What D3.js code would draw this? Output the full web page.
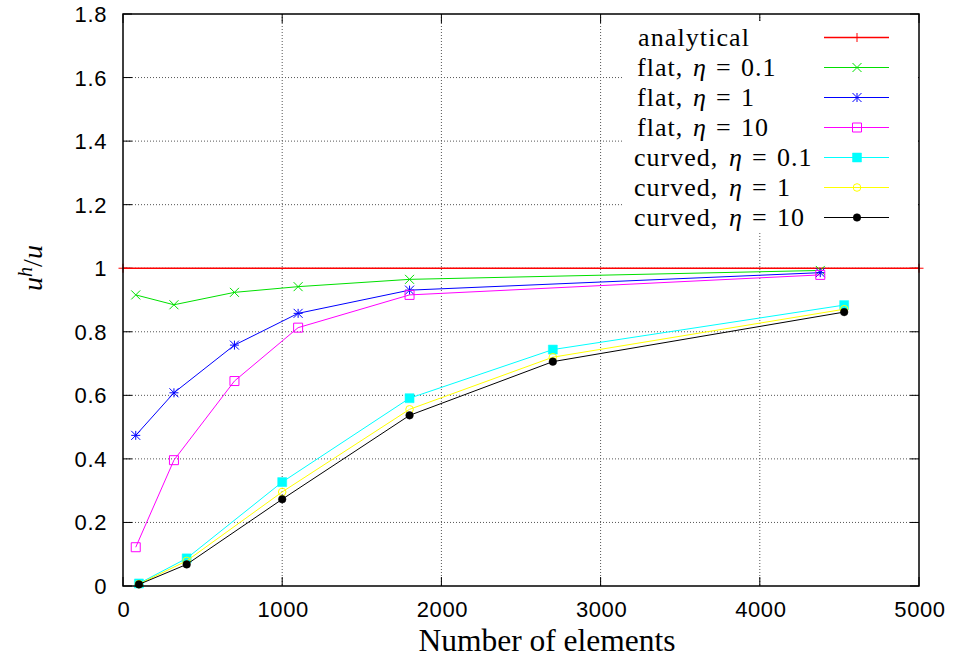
<!DOCTYPE html>
<html>
<head>
<meta charset="utf-8">
<script src="https://cdn.jsdelivr.net/npm/d3@7"></script>
<style>
  html, body { margin: 0; padding: 0; background: #fff; }
  svg { display: block; }
</style>
</head>
<body>
<svg id="chart" width="954" height="663"></svg>
<script>
// ---- data ----
const xTicks = [0, 1000, 2000, 3000, 4000, 5000];
const yTicks = [0, 0.2, 0.4, 0.6, 0.8, 1, 1.2, 1.4, 1.6, 1.8];
const yTickLabels = ["0", "0.2", "0.4", "0.6", "0.8", "1", "1.2", "1.4", "1.6", "1.8"];

const analyticalX = [0, 5000];
const analyticalY = [1, 1];

const flatX = [80, 320, 700, 1100, 1800, 4380];
const flatEta01 = [0.916, 0.885, 0.924, 0.942, 0.965, 0.993];
const flatEta1 = [0.474, 0.608, 0.758, 0.858, 0.931, 0.986];
const flatEta10 = [0.122, 0.396, 0.645, 0.813, 0.916, 0.979];

const curvedX = [100, 400, 1000, 1800, 2700, 4530];
const curvedEta01 = [0.008, 0.087, 0.327, 0.591, 0.744, 0.884];
const curvedEta1 = [0.006, 0.079, 0.296, 0.556, 0.720, 0.871];
const curvedEta10 = [0.005, 0.068, 0.273, 0.537, 0.706, 0.862];

const seriesNames = ["analytical", "flat", "flat", "flat", "curved", "curved", "curved"];
const seriesEta = [null, "0.1", "1", "10", "0.1", "1", "10"];

const xTitle = "Number of elements";

// ---- layout ----
const W = 954, H = 663;
const L = 123, R = 919, T = 14, B = 586;
const svg = d3.select("#chart");
const x = d3.scaleLinear().domain([0, 5000]).range([L, R]);
const y = d3.scaleLinear().domain([0, 1.8]).range([B, T]);

const styles = [
  { color: "#ff0000", marker: "plus" },
  { color: "#00e000", marker: "x" },
  { color: "#0000ff", marker: "star" },
  { color: "#ff00ff", marker: "osquare" },
  { color: "#00ffff", marker: "fsquare" },
  { color: "#ffff00", marker: "ocircle" },
  { color: "#000000", marker: "fcircle" }
];

const series = [
  { xs: analyticalX, ys: analyticalY },
  { xs: flatX, ys: flatEta01 },
  { xs: flatX, ys: flatEta1 },
  { xs: flatX, ys: flatEta10 },
  { xs: curvedX, ys: curvedEta01 },
  { xs: curvedX, ys: curvedEta1 },
  { xs: curvedX, ys: curvedEta10 }
];

// ---- grid ----
const grid = svg.append("g");
grid.selectAll("line.gx").data(xTicks.slice(1, -1)).enter().append("line")
  .attr("x1", d => x(d)).attr("x2", d => x(d)).attr("y1", T).attr("y2", B)
  .attr("stroke", "#555").attr("stroke-width", 1).attr("stroke-dasharray", "1,2");
grid.selectAll("line.gy").data(yTicks.slice(1, -1)).enter().append("line")
  .attr("y1", d => y(d)).attr("y2", d => y(d)).attr("x1", L).attr("x2", R)
  .attr("stroke", "#555").attr("stroke-width", 1).attr("stroke-dasharray", "1,2");

// ---- ticks (inward on all 4 sides) ----
const tk = svg.append("g").attr("stroke", "#000").attr("stroke-width", 1);
xTicks.forEach(t => {
  tk.append("line").attr("x1", x(t)).attr("x2", x(t)).attr("y1", B).attr("y2", B - 9);
  tk.append("line").attr("x1", x(t)).attr("x2", x(t)).attr("y1", T).attr("y2", T + 9);
});
yTicks.forEach(t => {
  tk.append("line").attr("y1", y(t)).attr("y2", y(t)).attr("x1", L).attr("x2", L + 9);
  tk.append("line").attr("y1", y(t)).attr("y2", y(t)).attr("x1", R).attr("x2", R - 9);
});

// ---- legend background (opaque key) ----
const legX = 622, legY = 21, legRow = 30;
svg.append("rect").attr("x", legX).attr("y", legY).attr("width", R - legX - 1).attr("height", 212)
  .attr("fill", "#fff");

// ---- markers ----
function markerPath(type, cx, cy) {
  const g = d3.path();
  const s = 4.5;
  if (type === "plus") {
    g.moveTo(cx - s, cy); g.lineTo(cx + s, cy); g.moveTo(cx, cy - s); g.lineTo(cx, cy + s);
  } else if (type === "x") {
    g.moveTo(cx - s, cy - s); g.lineTo(cx + s, cy + s); g.moveTo(cx - s, cy + s); g.lineTo(cx + s, cy - s);
  } else if (type === "star") {
    g.moveTo(cx - s, cy); g.lineTo(cx + s, cy); g.moveTo(cx, cy - s); g.lineTo(cx, cy + s);
    g.moveTo(cx - s, cy - s); g.lineTo(cx + s, cy + s); g.moveTo(cx - s, cy + s); g.lineTo(cx + s, cy - s);
  } else if (type === "osquare" || type === "fsquare") {
    g.rect(cx - s, cy - s, 2 * s, 2 * s);
  } else {
    g.arc(cx, cy, 3.8, 0, 2 * Math.PI);
  }
  return g.toString();
}
function drawMarker(sel, type, color, cx, cy) {
  const filled = type === "fsquare" || type === "fcircle";
  sel.append("path").attr("d", markerPath(type, cx, cy))
    .attr("fill", filled ? color : "none")
    .attr("stroke", color)
    .attr("stroke-width", filled ? 0.5 : 1);
}

// ---- series ----
const line = d3.line().x(d => x(d[0])).y(d => y(d[1]));
const plot = svg.append("g");
series.forEach((s, i) => {
  const st = styles[i];
  const pts = s.xs.map((xv, k) => [xv, s.ys[k]]);
  plot.append("path").datum(pts).attr("d", line)
    .attr("fill", "none").attr("stroke", st.color)
    .attr("stroke-width", i === 0 ? 1.5 : 1);
  pts.forEach(p => drawMarker(plot, st.marker, st.color, x(p[0]), y(p[1])));
});

// ---- border ----
svg.append("rect").attr("x", L).attr("y", T).attr("width", R - L).attr("height", B - T)
  .attr("fill", "none").attr("stroke", "#000").attr("stroke-width", 1.5);

// ---- tick labels ----
const tickFont = "'Liberation Sans', Arial, sans-serif";
svg.append("g").selectAll("text").data(xTicks).enter().append("text")
  .attr("x", d => x(d) + 1).attr("y", 617)
  .attr("text-anchor", "middle")
  .attr("font-family", tickFont).attr("font-size", 22).attr("letter-spacing", 0.6)
  .text(d => String(d));
svg.append("g").selectAll("text").data(yTicks).enter().append("text")
  .attr("x", 107).attr("y", d => y(d) + 8)
  .attr("text-anchor", "end")
  .attr("font-family", tickFont).attr("font-size", 22).attr("letter-spacing", 0.6)
  .text((d, i) => yTickLabels[i]);

// ---- axis titles ----
const serif = "'Liberation Serif', 'Times New Roman', serif";
svg.append("text").attr("x", 547).attr("y", 651)
  .attr("text-anchor", "middle").attr("font-family", serif).attr("font-size", 31.5)
  .text(xTitle);

const yt = svg.append("text")
  .attr("transform", "translate(42,268) rotate(-90)")
  .attr("text-anchor", "middle").attr("font-family", serif).attr("font-size", 28)
  .attr("font-style", "italic");
yt.append("tspan").text("u");
yt.append("tspan").attr("dy", -10).attr("font-size", 20).text("h");
yt.append("tspan").attr("dy", 10).attr("font-style", "normal").text("/");
yt.append("tspan").text("u");

// ---- legend ----
const leg = svg.append("g");
seriesNames.forEach((name, i) => {
  const cy = 37.5 + i * legRow;
  const base = cy + 8;
  const t = leg.append("text").attr("y", base)
    .attr("font-family", serif).attr("font-size", 26);
  if (seriesEta[i] === null) {
    t.attr("x", 638).attr("letter-spacing", 1.1).text(name);
  } else {
    const etaX = name === "flat" ? 693 : 729;
    const nameX = name === "flat" ? 637 : 634;
    t.append("tspan").attr("x", nameX).attr("letter-spacing", 1).text(name + ",");
    t.append("tspan").attr("x", etaX).attr("font-style", "italic").text("η");
    t.append("tspan").attr("x", etaX + 23).text("=");
    t.append("tspan").attr("x", etaX + 48).attr("letter-spacing", 1).text(seriesEta[i]);
  }
  leg.append("line").attr("x1", 824).attr("x2", 889).attr("y1", cy).attr("y2", cy)
    .attr("stroke", styles[i].color).attr("stroke-width", i === 0 ? 1.5 : 1);
  drawMarker(leg, styles[i].marker, styles[i].color, 857, cy);
});
</script>
</body>
</html>
